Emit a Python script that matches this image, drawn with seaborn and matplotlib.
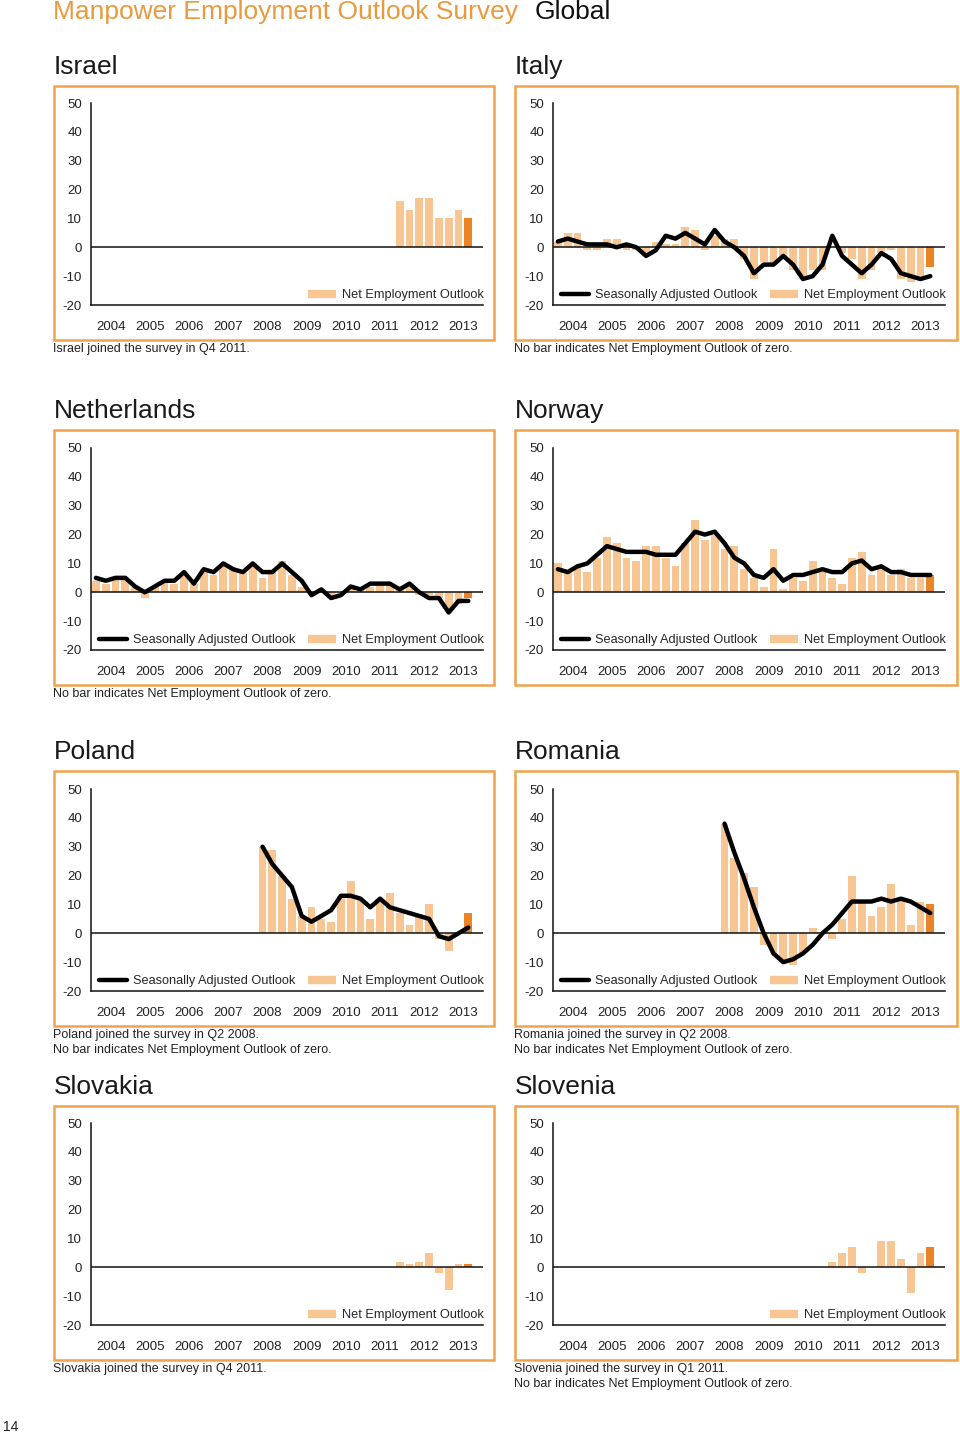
import numpy as np
import pandas as pd
import seaborn as sns
import matplotlib.pyplot as plt
from matplotlib.lines import Line2D
from matplotlib.patches import Rectangle

# quarter index 0 = Q1 2004 ... 38 = Q3 2013 (latest outlook, drawn darker)
years = list(range(2004, 2014))

israel_neo = [16, 13, 17, 17, 10, 10, 13, 10]          # from Q4 2011 (31)

italy_neo = [2, 5, 5, -1, -1, 3, 3, -1, -1, -2, 2, 1, 1, 7, 6, -1, 4, 3, 3, -4,
             -11, -5, -6, -3, -8, -10, -8, -8, 0, -2, -4, -11, -8, -2, -1, -11, -12, -10, -7]
italy_sa = [2, 3, 2, 1, 1, 1, 0, 1, 0, -3, -1, 4, 3, 5, 3, 1, 6, 2, 0, -3,
            -9, -6, -6, -3, -6, -11, -10, -6, 4, -3, -6, -9, -6, -2, -4, -9, -10, -11, -10]

netherlands_neo = [4, 3, 5, 5, 2, -2, 2, 4, 3, 6, 3, 8, 6, 9, 8, 7, 9, 5, 7, 11,
                   6, 2, -1, 1, -2, -1, 1, 1, 2, 3, 3, 1, 2, -1, -1, -2, -6, -4, -2]
netherlands_sa = [5, 4, 5, 5, 2, 0, 2, 4, 4, 7, 3, 8, 7, 10, 8, 7, 10, 7, 7, 10,
                  7, 4, -1, 1, -2, -1, 2, 1, 3, 3, 3, 1, 3, 0, -2, -2, -7, -3, -3]

norway_neo = [10, 7, 9, 7, 12, 19, 17, 12, 11, 16, 16, 12, 9, 17, 25, 18, 20, 15, 16, 8,
              5, 2, 15, 1, 5, 4, 11, 7, 5, 3, 12, 14, 6, 9, 6, 8, 5, 5, 6]
norway_sa = [8, 7, 9, 10, 13, 16, 15, 14, 14, 14, 13, 13, 13, 17, 21, 20, 21, 17, 12, 10,
             6, 5, 8, 4, 6, 6, 7, 8, 7, 7, 10, 11, 8, 9, 7, 7, 6, 6, 6]

poland_neo = [30, 29, 20, 12, 6, 9, 5, 4, 13, 18, 12, 5, 11, 14, 7, 3, 6, 10, -2, -6, 0, 7]   # from Q2 2008 (17)
poland_sa = [30, 24, 20, 16, 6, 4, 6, 8, 13, 13, 12, 9, 12, 9, 8, 7, 6, 5, -1, -2, 0, 2]

romania_neo = [38, 26, 21, 16, -4, -7, -10, -11, -7, 2, 0, -2, 5, 20, 11, 6, 9, 17, 12, 3, 11, 10]
romania_sa = [38, 28, 19, 9, 0, -7, -10, -9, -7, -4, 0, 3, 7, 11, 11, 11, 12, 11, 12, 11, 9, 7]

slovakia_neo = [2, 1, 2, 5, -2, -8, 1, 1]             # from Q4 2011 (31)
slovenia_neo = [2, 5, 7, -2, 0, 9, 9, 3, -9, 5, 7]     # from Q1 2011 (28)

W, H = 960, 1433
LIGHT = '#F8C692'
DARK = '#EA8424'
FRAME = '#F0A24C'
TITLE_ORANGE = '#E99A3E'

sns.set_style('white')
plt.rcParams['font.family'] = ['Liberation Sans', 'DejaVu Sans']
plt.rcParams['axes.unicode_minus'] = False

fig = plt.figure(figsize=(W / 100, H / 100), dpi=100)


def px_rect(x0, y0, x1, y1):
    return [x0 / W, 1 - y1 / H, (x1 - x0) / W, (y1 - y0) / H]


def draw_panel(col, row, title, neo, sa, start, notes):
    fx0 = [54, 515][col]
    fx1 = [494, 957][col]
    fy0 = [86, 430, 771, 1106][row]
    fy1 = [340, 685, 1026, 1360][row]
    ax_x0 = [91, 553][col]
    ax_y0 = [103, 448, 789, 1123][row]

    fig.add_artist(Rectangle((fx0 / W, 1 - fy1 / H), (fx1 - fx0) / W, (fy1 - fy0) / H,
                             transform=fig.transFigure, fill=False, ec=FRAME, lw=1.8))
    fig.text(fx0 / W, 1 - (fy0 - 19) / H, title, fontsize=19, color='#1a1a1a',
             ha='left', va='center')
    for k, line in enumerate(notes):
        fig.text((fx0 - 1) / W, 1 - (fy1 + 9 + 15 * k) / H, line, fontsize=9,
                 color='#222222', ha='left', va='center')

    ax = fig.add_axes(px_rect(ax_x0, ax_y0, ax_x0 + 392, ax_y0 + 202))

    q = np.arange(start, start + len(neo)) + 0.5
    df = pd.DataFrame({'q': q, 'neo': neo,
                       'kind': ['past'] * (len(neo) - 1) + ['latest']})
    sns.barplot(data=df, x='q', y='neo', hue='kind',
                palette={'past': LIGHT, 'latest': DARK}, saturation=1,
                native_scale=True, width=0.8, dodge=False, legend=False,
                errorbar=None, ax=ax, zorder=1, linewidth=0)
    ax.axhline(0, color='#111111', lw=1.1, zorder=2)
    if sa is not None:
        qs = np.arange(start, start + len(sa)) + 0.5
        sns.lineplot(x=qs, y=sa, ax=ax, color='black', lw=3.2, zorder=3)

    ax.set_xlim(0, 40)
    ax.set_ylim(-20, 50)
    ax.set_xlabel('')
    ax.set_ylabel('')
    ax.set_xticks(range(0, 41, 4))
    ax.set_xticklabels([])
    ax.set_xticks(range(0, 41), minor=True)
    ax.tick_params(axis='x', which='major', length=10, width=1.1, color='#111111')
    ax.tick_params(axis='x', which='minor', length=3.5, width=1.1, color='#111111')
    ax.set_yticks(range(-20, 51, 10))
    ax.tick_params(axis='y', length=5, width=1.1, labelsize=9.5, pad=1.5,
                   labelcolor='#222222', color='#111111')
    for k, yr in enumerate(years):
        ax.text(4 * k + 2, -0.108, str(yr), transform=ax.get_xaxis_transform(),
                ha='center', va='center', fontsize=9.5, color='#222222')
    sns.despine(ax=ax)
    for s in ('left', 'bottom'):
        ax.spines[s].set_color('#111111')
        ax.spines[s].set_linewidth(1.1)

    handles = []
    if sa is not None:
        handles.append(Line2D([], [], color='black', lw=3.2, label='Seasonally Adjusted Outlook'))
    handles.append(Line2D([], [], color=LIGHT, lw=6, solid_capstyle='butt',
                          label='Net Employment Outlook'))
    ax.legend(handles=handles, ncol=len(handles), loc='lower right',
              bbox_to_anchor=(1.012, 0.0), frameon=False, fontsize=9.2,
              handlelength=2.2, handletextpad=0.45, columnspacing=1.0,
              borderaxespad=0.3, borderpad=0)


draw_panel(0, 0, 'Israel', israel_neo, None, 31, ['Israel joined the survey in Q4 2011.'])
draw_panel(1, 0, 'Italy', italy_neo, italy_sa, 0,
           ['No bar indicates Net Employment Outlook of zero.'])
draw_panel(0, 1, 'Netherlands', netherlands_neo, netherlands_sa, 0,
           ['No bar indicates Net Employment Outlook of zero.'])
draw_panel(1, 1, 'Norway', norway_neo, norway_sa, 0, [])
draw_panel(0, 2, 'Poland', poland_neo, poland_sa, 17,
           ['Poland joined the survey in Q2 2008.',
            'No bar indicates Net Employment Outlook of zero.'])
draw_panel(1, 2, 'Romania', romania_neo, romania_sa, 17,
           ['Romania joined the survey in Q2 2008.',
            'No bar indicates Net Employment Outlook of zero.'])
draw_panel(0, 3, 'Slovakia', slovakia_neo, None, 31, ['Slovakia joined the survey in Q4 2011.'])
draw_panel(1, 3, 'Slovenia', slovenia_neo, None, 28,
           ['Slovenia joined the survey in Q1 2011.',
            'No bar indicates Net Employment Outlook of zero.'])

fig.text(53 / W, 1 - 12 / H, 'Manpower Employment Outlook Survey', fontsize=19,
         color=TITLE_ORANGE, ha='left', va='center')
fig.text(535 / W, 1 - 12 / H, 'Global', fontsize=19, color='#111111', ha='left', va='center')
fig.text(3 / W, 1 - 1427 / H, '14', fontsize=10, color='#222222', ha='left', va='center')

fig.savefig('out.png', dpi=100)
